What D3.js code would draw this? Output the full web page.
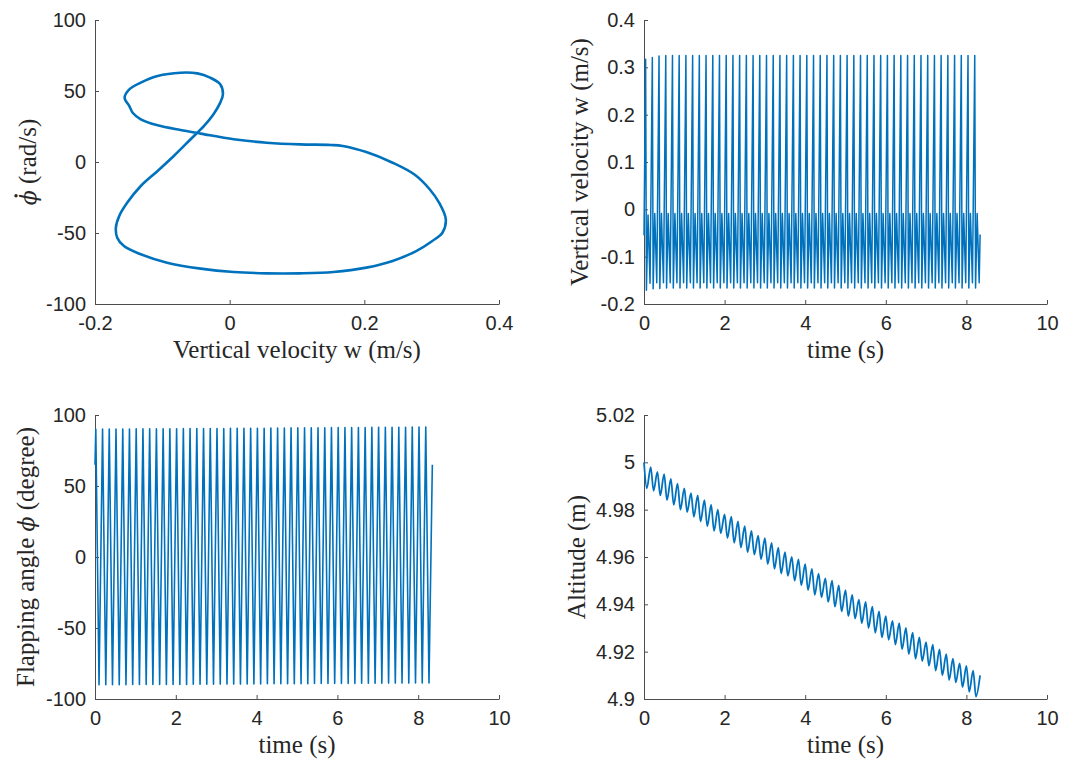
<!DOCTYPE html>
<html>
<head>
<meta charset="utf-8">
<script src="https://cdn.jsdelivr.net/npm/d3@7"></script>
<style>
body { margin: 0; background: #fff; }
.axis path, .axis line { stroke: #4d4d4d; stroke-width: 1; }
.axis .tick text { font-family: "Liberation Sans", Arial, sans-serif; font-size: 20px; fill: #262626; }
.label { font-family: "Liberation Serif", serif; font-size: 25px; fill: #262626; }
.curve { fill: none; stroke: #0072BD; stroke-linejoin: round; }
</style>
</head>
<body>
<svg id="fig" width="1083" height="764"></svg>
<script>
// start time of each flap cycle (s)
var cycleT = [0, 0.167, 0.333, 0.5, 0.667, 0.833, 1, 1.167, 1.333, 1.5,
  1.667, 1.833, 2, 2.167, 2.333, 2.5, 2.667, 2.833, 3, 3.167,
  3.333, 3.5, 3.667, 3.833, 4, 4.167, 4.333, 4.5, 4.667, 4.833,
  5, 5.167, 5.333, 5.5, 5.667, 5.833, 6, 6.167, 6.333, 6.5,
  6.667, 6.833, 7, 7.167, 7.333, 7.5, 7.667, 7.833, 8, 8.167];

// phase portrait: vertical velocity w (m/s) vs phi dot (rad/s)
var phaseW = [-0.073, -0.107, -0.132, -0.149, -0.156, -0.149, -0.144, -0.132, -0.107, -0.073,
  -0.043, 0.006, 0.055, 0.104, 0.150, 0.168, 0.203, 0.242, 0.275, 0.297,
  0.311, 0.321, 0.316, 0.301, 0.277, 0.242, 0.203, 0.154, 0.104, 0.055,
  0.006, -0.043, -0.093, -0.132, -0.157, -0.167, -0.169, -0.164, -0.152, -0.132,
  -0.107, -0.083, -0.058, -0.038, -0.024, -0.014, -0.010, -0.014, -0.029, -0.048];
var phaseDphi = [62.9, 60.6, 55.9, 51.2, 45.3, 39.4, 34.7, 30.0, 25.8, 22.5,
  20.0, 16.0, 13.6, 12.4, 12.0, 11.3, 7.0, -0.5, -9.0, -19.2,
  -28.6, -40.4, -49.8, -55.6, -62.7, -69.7, -74.4, -77.5, -78.4, -78.4,
  -77.5, -75.1, -70.9, -65.0, -59.2, -53.3, -46.2, -38.0, -28.6, -16.9,
  -6.3, 4.2, 16.0, 25.4, 33.6, 41.8, 47.7, 54.7, 59.4, 62.4];

// vertical velocity: spike, deep trough, small peak, shallow trough in each cycle
var wLag = [0.04, 0.06, 0.10, 0.15];
var wSpike = [0.317, 0.321, 0.324, 0.325, 0.325, 0.325, 0.325, 0.325, 0.325, 0.325,
  0.325, 0.325, 0.325, 0.325, 0.325, 0.325, 0.325, 0.325, 0.325, 0.325,
  0.325, 0.325, 0.325, 0.325, 0.325, 0.325, 0.325, 0.325, 0.325, 0.325,
  0.325, 0.325, 0.325, 0.325, 0.325, 0.325, 0.325, 0.325, 0.325, 0.325,
  0.325, 0.325, 0.325, 0.325, 0.325, 0.325, 0.325, 0.325, 0.325, 0.325];
var wDeep = [-0.171, -0.168, -0.167, -0.166, -0.166, -0.166, -0.166, -0.166, -0.166, -0.166,
  -0.166, -0.166, -0.166, -0.166, -0.166, -0.166, -0.166, -0.166, -0.166, -0.166,
  -0.166, -0.166, -0.166, -0.166, -0.166, -0.166, -0.166, -0.166, -0.166, -0.166,
  -0.166, -0.166, -0.166, -0.166, -0.166, -0.166, -0.166, -0.166, -0.166, -0.166,
  -0.166, -0.166, -0.166, -0.166, -0.166, -0.166, -0.166, -0.166, -0.166, -0.166];
var wMid = [-0.012, -0.009, -0.009, -0.009, -0.009, -0.009, -0.009, -0.009, -0.009, -0.009,
  -0.009, -0.009, -0.009, -0.009, -0.009, -0.009, -0.009, -0.009, -0.009, -0.009,
  -0.009, -0.009, -0.009, -0.009, -0.009, -0.009, -0.009, -0.009, -0.009, -0.009,
  -0.009, -0.009, -0.009, -0.009, -0.009, -0.009, -0.009, -0.009, -0.009, -0.009,
  -0.009, -0.009, -0.009, -0.009, -0.009, -0.009, -0.009, -0.009, -0.009, -0.009];
var wShallow = [-0.156, -0.155, -0.155, -0.155, -0.155, -0.155, -0.155, -0.155, -0.155, -0.155,
  -0.155, -0.155, -0.155, -0.155, -0.155, -0.155, -0.155, -0.155, -0.155, -0.155,
  -0.155, -0.155, -0.155, -0.155, -0.155, -0.155, -0.155, -0.155, -0.155, -0.155,
  -0.155, -0.155, -0.155, -0.155, -0.155, -0.155, -0.155, -0.155, -0.155, -0.155,
  -0.155, -0.155, -0.155, -0.155, -0.155, -0.155, -0.155, -0.155, -0.155, -0.155];
var wStart = [0, -0.055], wEnd = [8.34, -0.053];

// flapping angle (degree): peak and trough of each cycle
var flapLag = [0.02, 0.10];
var flapPeak = [90.0, 90.1, 90.1, 90.1, 90.1, 90.1, 90.2, 90.2, 90.2, 90.2,
  90.3, 90.3, 90.3, 90.4, 90.4, 90.4, 90.4, 90.5, 90.5, 90.5,
  90.6, 90.6, 90.6, 90.7, 90.7, 90.7, 90.8, 90.8, 90.8, 90.9,
  90.9, 90.9, 91.0, 91.0, 91.0, 91.1, 91.1, 91.1, 91.2, 91.2,
  91.2, 91.3, 91.3, 91.3, 91.4, 91.4, 91.4, 91.5, 91.5, 91.5];
var flapTrough = [-89.9, -89.9, -89.9, -89.9, -89.9, -89.8, -89.8, -89.8, -89.8, -89.8,
  -89.7, -89.7, -89.7, -89.7, -89.6, -89.6, -89.6, -89.6, -89.5, -89.5,
  -89.5, -89.5, -89.4, -89.4, -89.4, -89.3, -89.3, -89.3, -89.3, -89.2,
  -89.2, -89.2, -89.1, -89.1, -89.1, -89.0, -89.0, -89.0, -89.0, -88.9,
  -88.9, -88.9, -88.9, -88.8, -88.8, -88.8, -88.8, -88.7, -88.7, -88.7];
var flapStart = [0, 65], flapEnd = [8.35, 65];

// altitude (m): peak and trough of each cycle
var altLag = [0, 0.07];
var altPeak = [5.000, 4.998, 4.996, 4.995, 4.993, 4.991, 4.989, 4.987, 4.986, 4.984,
  4.982, 4.980, 4.978, 4.977, 4.975, 4.973, 4.971, 4.969, 4.968, 4.966,
  4.964, 4.962, 4.960, 4.959, 4.957, 4.955, 4.953, 4.951, 4.950, 4.948,
  4.946, 4.944, 4.942, 4.941, 4.939, 4.937, 4.935, 4.933, 4.932, 4.930,
  4.928, 4.926, 4.924, 4.923, 4.921, 4.919, 4.917, 4.915, 4.914, 4.912];
var altTrough = [4.989, 4.988, 4.986, 4.984, 4.982, 4.980, 4.979, 4.977, 4.975, 4.973,
  4.971, 4.970, 4.968, 4.966, 4.964, 4.962, 4.961, 4.959, 4.957, 4.955,
  4.953, 4.952, 4.950, 4.948, 4.946, 4.944, 4.943, 4.941, 4.939, 4.937,
  4.935, 4.934, 4.932, 4.930, 4.928, 4.926, 4.925, 4.923, 4.921, 4.919,
  4.917, 4.916, 4.914, 4.912, 4.910, 4.908, 4.907, 4.905, 4.903, 4.901];
var altEnd = [8.34, 4.910];

// ticks
var timeTicks = [0, 2, 4, 6, 8, 10];
var phaseWTicks = [-0.2, 0, 0.2, 0.4];
var dphiTicks = [-100, -50, 0, 50, 100];
var wTicks = [-0.2, -0.1, 0, 0.1, 0.2, 0.3, 0.4];
var flapTicks = [-100, -50, 0, 50, 100];
var altTicks = [4.9, 4.92, 4.94, 4.96, 4.98, 5, 5.02];

var svg = d3.select('#fig');
var fmt = function(d) { return String(+d.toFixed(2)); };

// set up one subplot: scales, left and bottom axes
function subplot(box, xDom, yDom, xTicks, yTicks) {
  var x = d3.scaleLinear().domain(xDom).range([box.left, box.right]);
  var y = d3.scaleLinear().domain(yDom).range([box.bottom, box.top]);
  svg.append('g')
    .attr('class', 'axis')
    .attr('transform', 'translate(0,' + box.bottom + ')')
    .call(d3.axisBottom(x).tickValues(xTicks).tickFormat(fmt)
      .tickSizeInner(-4).tickSizeOuter(0).tickPadding(12));
  svg.append('g')
    .attr('class', 'axis')
    .attr('transform', 'translate(' + box.left + ',0)')
    .call(d3.axisLeft(y).tickValues(yTicks).tickFormat(fmt)
      .tickSizeInner(-4).tickSizeOuter(0).tickPadding(9));
  return { x: x, y: y };
}

function xLabel(box, txt) {
  svg.append('text')
    .attr('class', 'label')
    .attr('x', (box.left + box.right) / 2)
    .attr('y', box.bottom + 54)
    .attr('text-anchor', 'middle')
    .text(txt);
}

function yLabelTransform(box, off) {
  return 'translate(' + (box.left - off) + ',' + (box.top + box.bottom) / 2 + ') rotate(-90)';
}

function yLabel(box, off) {
  return svg.append('text')
    .attr('class', 'label')
    .attr('text-anchor', 'middle')
    .attr('transform', yLabelTransform(box, off));
}

function line(s) {
  return d3.line()
    .x(function(d) { return s.x(d[0]); })
    .y(function(d) { return s.y(d[1]); });
}

var boxA = { left: 95, right: 499, top: 20, bottom: 304 };
var boxB = { left: 644, right: 1047, top: 20, bottom: 304 };
var boxC = { left: 95, right: 499, top: 415, bottom: 699 };
var boxD = { left: 644, right: 1047, top: 415, bottom: 699 };

// ---- phase portrait
var sA = subplot(boxA, [-0.2, 0.4], [-100, 100], phaseWTicks, dphiTicks);
var phasePts = phaseW.map(function(w, i) { return [w, phaseDphi[i]]; });
svg.append('path')
  .attr('class', 'curve')
  .attr('stroke-width', 2.6)
  .attr('d', line(sA).curve(d3.curveCatmullRomClosed.alpha(0.5))(phasePts));
xLabel(boxA, 'Vertical velocity w (m/s)');
var la = yLabel(boxA, 59);
la.append('tspan').attr('font-family', 'DejaVu Serif').attr('font-style', 'italic').attr('font-size', '22px').text('\u03D5');
la.append('tspan').text(' (rad/s)');
// dot over phi (time derivative)
var phiBox = la.node().getExtentOfChar(0);
svg.append('circle')
  .attr('transform', yLabelTransform(boxA, 59))
  .attr('cx', phiBox.x + phiBox.width / 2 + 2)
  .attr('cy', -20)
  .attr('r', 1.7)
  .attr('fill', '#262626');

// ---- vertical velocity
var sB = subplot(boxB, [0, 10], [-0.2, 0.4], timeTicks, wTicks);
var wPts = [wStart];
cycleT.forEach(function(t, k) {
  wPts.push([t + wLag[0], wSpike[k]], [t + wLag[1], wDeep[k]],
    [t + wLag[2], wMid[k]], [t + wLag[3], wShallow[k]]);
});
wPts.push(wEnd);
svg.append('path')
  .attr('class', 'curve')
  .attr('stroke-width', 1.5)
  .attr('d', line(sB)(wPts));
xLabel(boxB, 'time (s)');
yLabel(boxB, 56).text('Vertical velocity w (m/s)');

// ---- flapping angle
var sC = subplot(boxC, [0, 10], [-100, 100], timeTicks, flapTicks);
var flapPts = [flapStart];
cycleT.forEach(function(t, k) {
  flapPts.push([t + flapLag[0], flapPeak[k]], [t + flapLag[1], flapTrough[k]]);
});
flapPts.push(flapEnd);
svg.append('path')
  .attr('class', 'curve')
  .attr('stroke-width', 1.6)
  .attr('d', line(sC)(flapPts));
xLabel(boxC, 'time (s)');
var lc = yLabel(boxC, 61);
lc.append('tspan').text('Flapping angle ');
lc.append('tspan').attr('font-family', 'DejaVu Serif').attr('font-style', 'italic').attr('font-size', '22px').text('\u03D5');
lc.append('tspan').text(' (degree)');

// ---- altitude
var sD = subplot(boxD, [0, 10], [4.9, 5.02], timeTicks, altTicks);
var altPts = [];
cycleT.forEach(function(t, k) {
  altPts.push([t + altLag[0], altPeak[k]], [t + altLag[1], altTrough[k]]);
});
altPts.push(altEnd);
svg.append('path')
  .attr('class', 'curve')
  .attr('stroke-width', 1.8)
  .attr('d', line(sD).curve(d3.curveMonotoneX)(altPts));
xLabel(boxD, 'time (s)');
yLabel(boxD, 59).text('Altitude (m)');
</script>
</body>
</html>
